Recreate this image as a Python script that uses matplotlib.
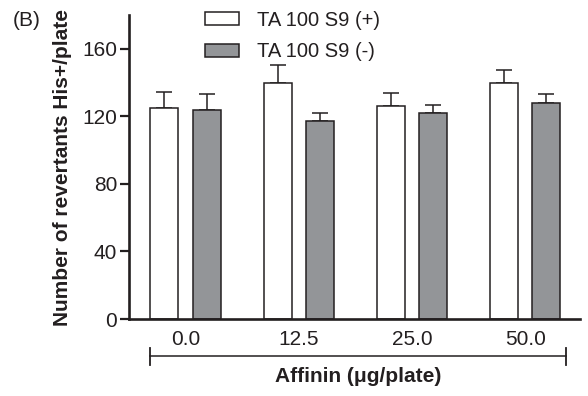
import numpy as np
import matplotlib.pyplot as plt

plt.rcParams['font.family'] = ['Liberation Sans', 'DejaVu Sans']

# Данные
doses = ["0.0", "12.5", "25.0", "50.0"]
s9_plus = [125, 140, 126, 140]
s9_plus_err = [9.5, 10.5, 8, 7.5]
s9_minus = [124, 117, 122, 128]
s9_minus_err = [9.5, 5, 5, 5.5]
labels = ["TA 100 S9 (+)", "TA 100 S9 (-)"]

ink = '#231f20'
gray = '#939598'

fig = plt.figure(figsize=(5.88, 3.96), dpi=100)
ax = fig.add_axes([0.2194, 0.1944, 0.767, 0.7676])

x = np.arange(len(doses))
w = 0.247
off = 0.187

ax.bar(x - off, s9_plus, w, color='white', edgecolor=ink, linewidth=1.1, label=labels[0], zorder=2)
ax.bar(x + off, s9_minus, w, color=gray, edgecolor=ink, linewidth=1.1, label=labels[1], zorder=2)

ax.errorbar(x - off, s9_plus, yerr=[np.zeros(len(x)), s9_plus_err], fmt='none',
            ecolor=ink, elinewidth=1.1, capsize=5.5, capthick=1.1, zorder=1)
ax.errorbar(x + off, s9_minus, yerr=[np.zeros(len(x)), s9_minus_err], fmt='none',
            ecolor=ink, elinewidth=1.1, capsize=5.5, capthick=1.1, zorder=1)

ax.set_xlim(-0.498, 3.483)
ax.set_ylim(0, 180)
ax.set_yticks([0, 40, 80, 120, 160])
ax.set_xticks(x)
ax.set_xticklabels(doses)
ax.tick_params(axis='y', length=6.5, width=1.6, labelsize=15, colors=ink, pad=2)
ax.tick_params(axis='x', length=0, labelsize=15, colors=ink, pad=8)

for s in ['top', 'right']:
    ax.spines[s].set_visible(False)
for s in ['left', 'bottom']:
    ax.spines[s].set_linewidth(1.9)
    ax.spines[s].set_color(ink)

ax.set_ylabel("Number of revertants His+/plate", fontsize=15, fontweight='bold',
              color=ink, labelpad=7)

# скобка под подписями
trans = ax.get_xaxis_transform()
yb = -0.122
ax.plot([-0.312, 3.359], [yb, yb], color=ink, lw=1.1, transform=trans, clip_on=False)
for xe in [-0.312, 3.359]:
    ax.plot([xe, xe], [yb - 0.028, yb + 0.028], color=ink, lw=1.3, transform=trans, clip_on=False)

fig.text(0.609, 0.049, "Affinin (\u03bcg/plate)", fontsize=15, fontweight='bold',
         color=ink, ha='center', va='center')
fig.text(0.022, 0.947, "(B)", fontsize=15, color=ink, ha='left', va='center')

ax.legend(loc='upper left', bbox_to_anchor=(205 / 588, 1 - 11 / 396), bbox_transform=fig.transFigure,
          frameon=False, fontsize=14.5, handlelength=1.7, handleheight=0.62,
          handletextpad=0.9, labelspacing=0.62, borderpad=0, borderaxespad=0,
          labelcolor=ink)

fig.savefig("out.png", dpi=100)
